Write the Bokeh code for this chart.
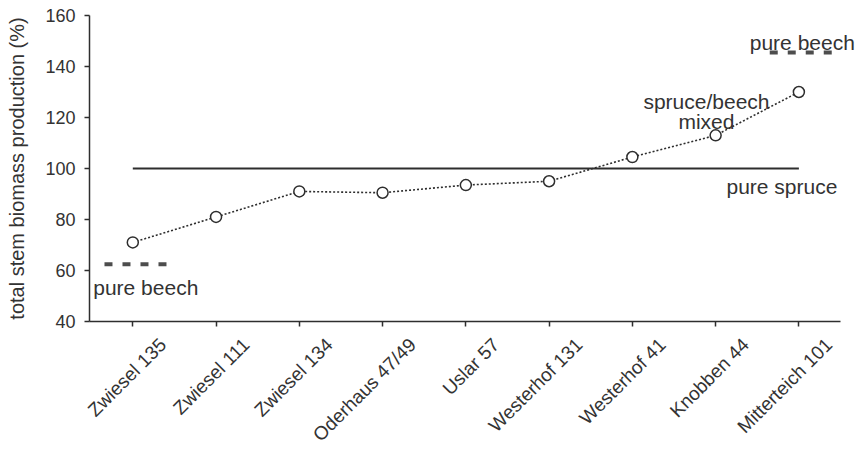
from bokeh.plotting import figure
from bokeh.models import ColumnDataSource, Label, FixedTicker, LinearAxis, Range1d
from bokeh.embed import file_html
from bokeh.resources import INLINE
from math import pi

# Stem biomass production of mixed spruce/beech stands relative to pure spruce (= 100 %)
stands = ["Zwiesel 135", "Zwiesel 111", "Zwiesel 134", "Oderhaus 47/49", "Uslar 57",
          "Westerhof 131", "Westerhof 41", "Knobben 44", "Mitterteich 101"]
mixed_production = [71, 81, 91, 90.5, 93.5, 95, 104.5, 113, 130]
pure_spruce = 100
pure_beech_low = 62.5
pure_beech_high = 145.5
y_ticks = [40, 60, 80, 100, 120, 140, 160]

FONT = "Liberation Sans"
INK = "#2e2e2e"
TEXT = "#333333"

xs = list(range(len(stands)))
X0, X_AXIS_END, X1 = -0.52, 8.5, 8.74
PX_PER_UNIT = (860 - 89) / (X1 - X0)
LABEL_SHIFT = 30 / PX_PER_UNIT  # stand names sit slightly right of their ticks

p = figure(width=860, height=455, output_backend="svg", toolbar_location=None,
           x_range=(X0, X1), y_range=(40, 160),
           min_border_left=89, min_border_right=0, min_border_top=15, min_border_bottom=133)
p.background_fill_color = "white"
p.border_fill_color = "white"
p.outline_line_color = None
p.xgrid.visible = False
p.ygrid.visible = False

# axes
p.yaxis.ticker = FixedTicker(ticks=y_ticks)
p.xaxis.ticker = FixedTicker(ticks=xs)
p.xaxis.bounds = (X0, X_AXIS_END)
p.xaxis.major_label_overrides = {i: "" for i in xs}
for ax in (p.xaxis, p.yaxis):
    ax.axis_line_color = INK
    ax.axis_line_width = 1.5
    ax.major_tick_line_color = INK
    ax.major_tick_line_width = 1.5
    ax.major_tick_in = 0
    ax.major_tick_out = 5
    ax.minor_tick_line_color = None
    ax.major_label_text_font = FONT
    ax.major_label_text_font_size = "18px"
    ax.major_label_text_color = TEXT
p.xaxis.major_label_standoff = 0
p.yaxis.major_label_standoff = 9
p.yaxis.axis_label = "total stem biomass production (%)"
p.yaxis.axis_label_text_font = FONT
p.yaxis.axis_label_text_font_size = "20px"
p.yaxis.axis_label_text_font_style = "normal"
p.yaxis.axis_label_text_color = TEXT
p.yaxis.axis_label_standoff = 14

# stand names on a label-only axis, rotated 45 degrees
p.extra_x_ranges = {"names": Range1d(X0 - LABEL_SHIFT, X1 - LABEL_SHIFT)}
name_axis = LinearAxis(x_range_name="names", ticker=FixedTicker(ticks=xs),
                       major_label_overrides={i: s for i, s in zip(xs, stands)},
                       major_label_orientation=pi / 4,
                       axis_line_color=None, major_tick_line_color=None,
                       minor_tick_line_color=None, major_label_standoff=9,
                       major_label_text_font=FONT, major_label_text_font_size="19px",
                       major_label_text_line_height=1.0,
                       major_label_text_color=TEXT)
p.add_layout(name_axis, "below")

# pure spruce reference
p.line([xs[0], xs[-1]], [pure_spruce, pure_spruce], line_color=INK, line_width=1.8)

# pure beech reference marks
p.line([xs[0] - 0.34, xs[0] + 0.41], [pure_beech_low] * 2, line_color="#4d4d4d",
       line_width=4, line_dash="8 10", line_cap="butt")
p.line([xs[-1] - 0.35, xs[-1] + 0.42], [pure_beech_high] * 2, line_color="#4d4d4d",
       line_width=4, line_dash="8 10", line_cap="butt")

# mixed stands
src = ColumnDataSource(dict(x=xs, y=mixed_production))
p.line("x", "y", source=src, line_color=INK, line_width=1.6, line_dash="2 2")
p.scatter("x", "y", source=src, marker="circle", size=11, fill_color="white",
          line_color=INK, line_width=1.5)

# annotations
def note(x, y, text, align="left"):
    p.add_layout(Label(x=x, y=y, text=text, text_align=align, text_baseline="alphabetic",
                       text_font=FONT, text_font_size="21px", text_color=TEXT))

note(-0.475, 53.5, "pure beech")
note(7.41, 149.6, "pure beech")
note(6.89, 126.3, "spruce/beech", "center")
note(6.89, 118.5, "mixed", "center")
note(7.13, 93.1, "pure spruce")

open("out.html", "w").write(file_html(p, INLINE))
